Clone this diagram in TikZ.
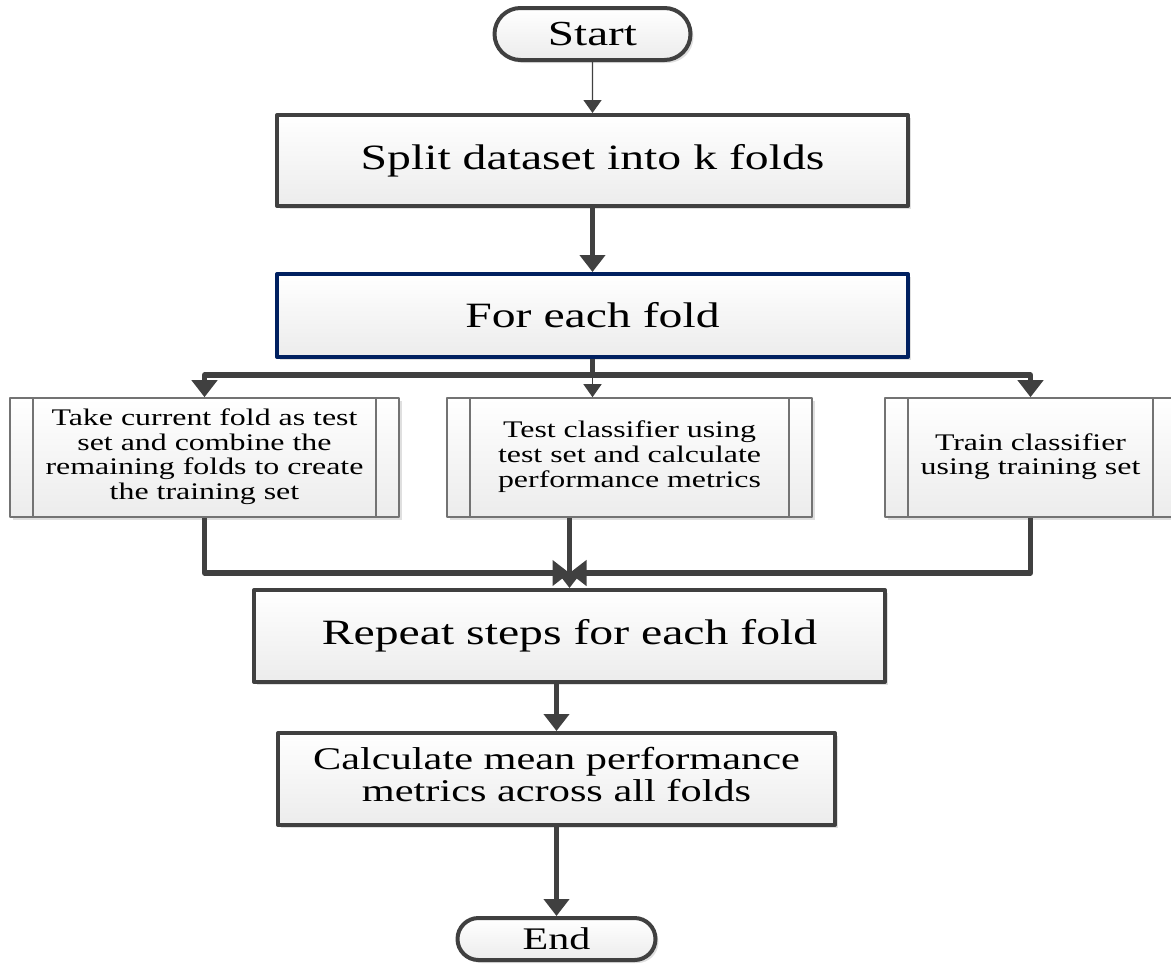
\documentclass[tikz,border=0pt]{standalone}
\usepackage{fontspec}
\setmainfont{Liberation Serif}
\usetikzlibrary{arrows.meta,shapes.misc,shadows,calc}
\definecolor{linegray}{RGB}{64,64,64}
\definecolor{navy}{RGB}{0,32,96}
\newcommand{\wtext}[1]{\scalebox{1.34}[1]{#1}}
\begin{document}
\begin{tikzpicture}[x=0.5pt,y=-0.5pt,line join=round,
	box/.style={draw=linegray,top color=white,bottom color=gray!15,inner sep=0pt,
		drop shadow={shadow xshift=1.5pt,shadow yshift=-1.5pt,opacity=.25,fill=gray}},
	term/.style={box,rounded rectangle,line width=2pt},
	proc/.style={box,line width=2pt,minimum width=315.5pt,minimum height=45.5pt,font=\fontsize{17.8}{20}\selectfont},
	predef/.style={box,draw=gray!90!black,line width=.8pt,minimum height=59.5pt,font=\fontsize{11.9}{12.4}\selectfont},
	thick link/.style={draw=linegray,line width=2.6pt,-{Triangle[width=12.5pt,length=8.5pt]}},
	thin link/.style={draw=linegray,line width=.7pt,-{Triangle[width=9pt,length=6.5pt]}}]
	%========================
	\useasboundingbox (0,0) rectangle (1171,969);
	\clip (0,0) rectangle (1171,969);
	%========================
	\node[term,minimum width=98pt,minimum height=26pt,font=\fontsize{17.6}{20}\selectfont] (start) at (592.5,34) {\wtext{Start}};
	\node[proc] (split) at (592.5,160.5) {\wtext{Split dataset into k folds}};
	\node[proc,draw=navy,minimum height=41.5pt] (fold) at (592.5,315.5) {\wtext{For each fold}};
	\node[predef,minimum width=194.5pt] (take) at (204.5,457.5) {\wtext{\begin{tabular}{@{}c@{}}Take current fold as test\\set and combine the\\remaining folds to create\\the training set\end{tabular}}};
	\node[predef,minimum width=182.5pt] (test) at (629.5,457.5) {\wtext{\begin{tabular}{@{}c@{}}Test classifier using\\test set and calculate\\performance metrics\end{tabular}}};
	\node[predef,minimum width=145.5pt] (train) at (1030.5,457.5) {\wtext{\begin{tabular}{@{}c@{}}Train classifier\\using training set\end{tabular}}};
	\node[proc,minimum height=46pt] (repeat) at (569.5,636) {\wtext{Repeat steps for each fold}};
	\node[proc,minimum width=278.5pt,minimum height=46pt,font=\fontsize{15.8}{16}\selectfont] (calc) at (556.5,779) {\wtext{\begin{tabular}{@{}c@{}}Calculate mean performance\\metrics across all folds\end{tabular}}};
	\node[term,minimum width=99pt,minimum height=21pt,font=\fontsize{15.7}{18}\selectfont] (stop) at (556.5,939) {\wtext{End}};
	% inner bars of the predefined process boxes
	\foreach \n in {take,test,train}{
		\draw[gray!90!black,line width=.8pt] ([xshift=12pt]\n.north west) -- ([xshift=12pt]\n.south west);
		\draw[gray!90!black,line width=.8pt] ([xshift=-12pt]\n.north east) -- ([xshift=-12pt]\n.south east);
	}
	%========================
	\draw[thin link] (start) -- (split);
	\draw[thick link] (split) -- (fold);
	\coordinate (fork) at ($(fold.south)+(0,16)$);
	\draw[draw=linegray,line width=2.6pt] (fold.south) -- (fork);
	\draw[thick link] (fork) -| (take.north);
	\draw[thick link] (fork) -| (train.north);
	\draw[thin link] (fork) -- (fork |- test.north);
	\coordinate (merge) at ($(repeat.north)+(0,-15)$);
	\draw[thick link] (take.south) |- (merge);
	\draw[thick link] (train.south) |- (merge);
	\draw[thick link] (repeat.north |- test.south) -- (repeat.north);
	\draw[thick link] (calc.north |- repeat.south) -- (calc.north);
	\draw[thick link] (calc) -- (stop);
	%========================
\end{tikzpicture}
\end{document}
